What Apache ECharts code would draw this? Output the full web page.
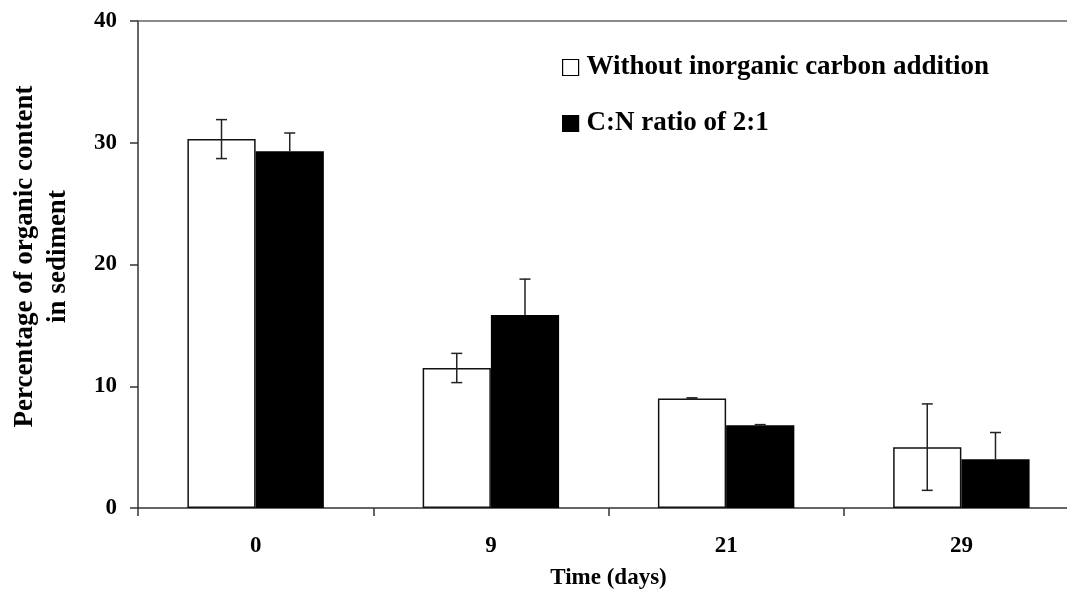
<!DOCTYPE html>
<html>
<head>
<meta charset="utf-8">
<script src="https://cdn.jsdelivr.net/npm/echarts@6/dist/echarts.min.js"></script>
<style>
html,body{margin:0;padding:0;background:#fff;}
#chart{width:1067px;height:590px;}
</style>
</head>
<body>
<div id="chart"></div>
<script>
var categories = ['0', '9', '21', '29'];
var seriesNames = ['Without inorganic carbon addition', 'C:N ratio of 2:1'];
var withoutValues = [30.3, 11.5, 9.0, 5.0];
var withoutErrors = [1.6, 1.2, 0.05, 3.55];
var ratioValues = [29.3, 15.85, 6.8, 4.0];
var ratioErrors = [1.5, 2.95, 0.05, 2.2];

var FONT = '"Liberation Serif", "Times New Roman", serif';
var CAT_GAP = 0.42;

function errorSeries(values, errors, seriesIdx) {
  var data = values.map(function (v, i) { return [i, v, errors[i]]; });
  return {
    type: 'custom',
    z: 5,
    silent: true,
    clip: false,
    renderItem: function (params, api) {
      var ci = api.value(0), v = api.value(1), e = api.value(2);
      var center = api.coord([ci, v]);
      var bandW = api.size([1, 0])[0];
      var barW = bandW * (1 - CAT_GAP) / 2;
      var x = center[0] + (seriesIdx === 0 ? -barW / 2 : barW / 2);
      var top = api.coord([ci, v + e])[1];
      var bot = api.coord([ci, v - e])[1];
      var cap = 5.5;
      var st = { stroke: '#222', lineWidth: 1.5 };
      var children = [
        { type: 'line', shape: { x1: x, y1: top, x2: x, y2: center[1] }, style: st },
        { type: 'line', shape: { x1: x - cap, y1: top, x2: x + cap, y2: top }, style: st }
      ];
      if (seriesIdx === 0) {
        children.push({ type: 'line', shape: { x1: x, y1: center[1], x2: x, y2: bot }, style: st });
        children.push({ type: 'line', shape: { x1: x - cap, y1: bot, x2: x + cap, y2: bot }, style: st });
      }
      return { type: 'group', children: children };
    },
    data: data
  };
}

var chart = echarts.init(document.getElementById('chart'), null, { renderer: 'canvas' });
chart.setOption({
  animation: false,
  backgroundColor: '#fff',
  textStyle: { fontFamily: FONT },
  grid: { left: 138, width: 941, top: 21, bottom: 82, containLabel: false, outerBoundsMode: 'none' },
  legend: {
    orient: 'vertical',
    left: 557,
    top: 49,
    itemWidth: 16,
    itemHeight: 16,
    itemGap: 29,
    icon: 'rect',
    selectedMode: false,
    data: [
      { name: seriesNames[0], itemStyle: { color: '#fff', borderColor: '#000', borderWidth: 1.2 } },
      { name: seriesNames[1], itemStyle: { color: '#000', borderColor: '#000', borderWidth: 1.2 } }
    ],
    textStyle: { fontFamily: FONT, fontWeight: 'bold', fontSize: 27, lineHeight: 27, color: '#000', padding: [0, 0, 0, 3] }
  },
  xAxis: [{
    type: 'category',
    data: categories,
    position: 'bottom',
    axisLine: { show: true, lineStyle: { color: '#333', width: 1.5 } },
    axisTick: { show: true, alignWithLabel: false, length: 8, lineStyle: { color: '#333', width: 1.5 } },
    axisLabel: { fontFamily: FONT, fontWeight: 'bold', fontSize: 23, color: '#000', margin: 27 },
    name: 'Time (days)',
    nameLocation: 'middle',
    nameGap: 59,
    nameTextStyle: { fontFamily: FONT, fontWeight: 'bold', fontSize: 23, color: '#000' }
  }, {
    type: 'category',
    data: categories,
    position: 'top',
    axisLine: { show: true, lineStyle: { color: '#666', width: 1.5 } },
    axisTick: { show: false },
    axisLabel: { show: false }
  }],
  yAxis: {
    type: 'value',
    min: 0,
    max: 40,
    interval: 10,
    axisLine: { show: true, lineStyle: { color: '#333', width: 1.5 } },
    axisTick: { show: true, length: 8, lineStyle: { color: '#333', width: 1.5 } },
    splitLine: { show: false },
    axisLabel: { fontFamily: FONT, fontWeight: 'bold', fontSize: 23, color: '#000', margin: 21 },
    name: 'Percentage of organic content\nin sediment',
    nameLocation: 'middle',
    nameGap: 63,
    nameTextStyle: { fontFamily: FONT, fontWeight: 'bold', fontSize: 27, lineHeight: 33, color: '#000', align: 'center', padding: [0, 0, 0, 16] }
  },
  series: [
    {
      name: seriesNames[0],
      type: 'bar',
      data: withoutValues,
      barGap: '0%',
      barCategoryGap: (CAT_GAP * 100) + '%',
      itemStyle: { color: '#fff', borderColor: '#111', borderWidth: 1.5 }
    },
    {
      name: seriesNames[1],
      type: 'bar',
      data: ratioValues,
      barGap: '0%',
      barCategoryGap: (CAT_GAP * 100) + '%',
      itemStyle: { color: '#000', borderColor: '#000', borderWidth: 0 }
    },
    errorSeries(withoutValues, withoutErrors, 0),
    errorSeries(ratioValues, ratioErrors, 1)
  ]
});
</script>
</body>
</html>
